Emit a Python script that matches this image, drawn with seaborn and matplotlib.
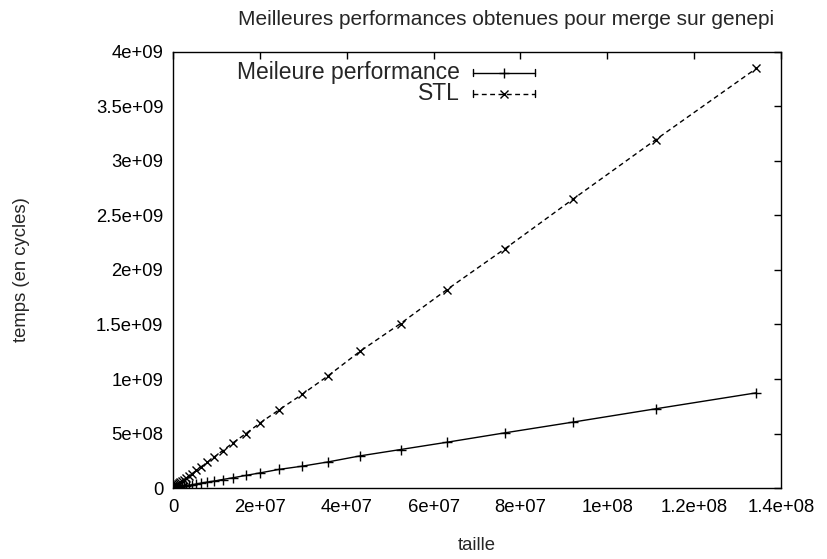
import matplotlib
matplotlib.use("Agg")
import matplotlib.pyplot as plt
import seaborn as sns
import pandas as pd

# Problem sizes (number of elements)
taille = [0.03e6, 0.037e6, 0.045e6, 0.055e6, 0.066e6, 0.08e6, 0.1e6, 0.12e6,
          0.14e6, 0.17e6, 0.21e6, 0.26e6, 0.31e6, 0.37e6, 0.45e6, 0.55e6,
          0.66e6, 0.8e6, 0.97e6, 1.2e6, 1.4e6, 1.7e6, 2.1e6, 2.5e6, 3.0e6,
          3.7e6, 4.4e6, 5.4e6, 6.5e6, 7.8e6, 9.5e6, 11.4e6, 13.8e6, 16.7e6,
          20.1e6, 24.3e6, 29.7e6, 35.8e6, 43.1e6, 52.4e6, 63.1e6, 76.4e6,
          92.0e6, 111.2e6, 134.3e6]

# Best measured time (cycles)
meilleure = [0.00021e9, 0.00026e9, 0.00032e9, 0.00039e9, 0.00046e9, 0.00056e9,
             0.0007e9, 0.00084e9, 0.00098e9, 0.0012e9, 0.0015e9, 0.0018e9,
             0.0022e9, 0.0026e9, 0.0032e9, 0.0039e9, 0.0046e9, 0.0056e9,
             0.0068e9, 0.0084e9, 0.0098e9, 0.012e9, 0.0145e9, 0.017e9,
             0.020e9, 0.025e9, 0.030e9, 0.037e9, 0.045e9, 0.054e9, 0.064e9,
             0.078e9, 0.094e9, 0.115e9, 0.139e9, 0.170e9, 0.200e9, 0.240e9,
             0.295e9, 0.353e9, 0.420e9, 0.506e9, 0.604e9, 0.727e9, 0.873e9]

# STL std::merge time (cycles)
stl = [0.0009e9, 0.0011e9, 0.00135e9, 0.00165e9, 0.002e9, 0.0024e9, 0.003e9,
       0.0036e9, 0.0042e9, 0.0051e9, 0.0063e9, 0.0078e9, 0.0093e9, 0.0111e9,
       0.0135e9, 0.0165e9, 0.0198e9, 0.024e9, 0.029e9, 0.036e9, 0.042e9,
       0.051e9, 0.063e9, 0.075e9, 0.09e9, 0.111e9, 0.132e9, 0.162e9, 0.195e9,
       0.234e9, 0.285e9, 0.342e9, 0.414e9, 0.497e9, 0.598e9, 0.714e9, 0.858e9,
       1.032e9, 1.255e9, 1.509e9, 1.821e9, 2.194e9, 2.647e9, 3.197e9, 3.849e9]

x_ticks = [0, 2e7, 4e7, 6e7, 8e7, 1e8, 1.2e8, 1.4e8]
x_labels = ["0", "2e+07", "4e+07", "6e+07", "8e+07", "1e+08", "1.2e+08", "1.4e+08"]
y_ticks = [0, 5e8, 1e9, 1.5e9, 2e9, 2.5e9, 3e9, 3.5e9, 4e9]
y_labels = ["0", "5e+08", "1e+09", "1.5e+09", "2e+09", "2.5e+09", "3e+09",
            "3.5e+09", "4e+09"]

series_names = ["Meileure performance", "STL"]

sns.set_style("white")
plt.rcParams["font.family"] = ["Liberation Sans", "DejaVu Sans"]
FS = 13.3
FS_KEY = 16.5
FS_TITLE = 15

df = pd.DataFrame({"taille": taille, "meilleure": meilleure, "stl": stl})

fig = plt.figure(figsize=(8.27, 5.59), dpi=100)
ax = fig.add_axes([0.2092, 0.127, 0.7352, 0.780])

DASH = (0, (3.5, 2.5))
sns.lineplot(data=df, x="taille", y="meilleure", ax=ax, color="black",
             linewidth=1.0, marker="+", markersize=7, markeredgewidth=1.0,
             markeredgecolor="black", linestyle="-")
sns.lineplot(data=df, x="taille", y="stl", ax=ax, color="black",
             linewidth=1.0, marker="x", markersize=6, markeredgewidth=1.0,
             markeredgecolor="black", linestyle=DASH)

ax.set_xlim(0, 1.4e8)
ax.set_ylim(0, 4e9)
ax.set_xticks(x_ticks)
ax.set_xticklabels(x_labels)
ax.set_yticks(y_ticks)
ax.set_yticklabels(y_labels)
ax.tick_params(direction="in", length=5, width=1, colors="black",
               top=True, right=True, labelsize=FS)
ax.tick_params(axis="x", pad=8)
ax.tick_params(axis="y", pad=7)
for s in ax.spines.values():
    s.set_color("black")
    s.set_linewidth(1.0)

ax.set_xlabel("taille", fontsize=FS)
ax.set_ylabel("temps (en cycles)", fontsize=FS)
ax.xaxis.label.set_va("center")
ax.yaxis.label.set_va("center")
ax.xaxis.set_label_coords(0.5, -0.131)
ax.yaxis.set_label_coords(-0.250, 0.5)
fig.text(0.612, 0.966, "Meilleures performances obtenues pour merge sur genepi",
         fontsize=FS_TITLE, ha="center", va="center")

# Key box: right-justified labels followed by the line sample
styles = [("-", "+", 7), (DASH, "x", 5.5)]
rows_y = [0.952, 0.904]
for name, (ls, mk, ms), yy in zip(series_names, styles, rows_y):
    ax.text(0.471, yy, name, transform=ax.transAxes, ha="right",
            va="center", fontsize=FS_KEY)
    ax.plot([0.493, 0.595], [yy, yy], transform=ax.transAxes, color="black",
            linewidth=1.0, linestyle=ls, clip_on=False)
    ax.plot([0.544], [yy], transform=ax.transAxes, color="black",
            marker=mk, markersize=ms, markeredgewidth=1.0, clip_on=False)
    for xe in (0.493, 0.595):
        ax.plot([xe, xe], [yy - 0.008, yy + 0.008], transform=ax.transAxes,
                color="black", linewidth=1.0, clip_on=False)

fig.savefig("out.png", dpi=100)
